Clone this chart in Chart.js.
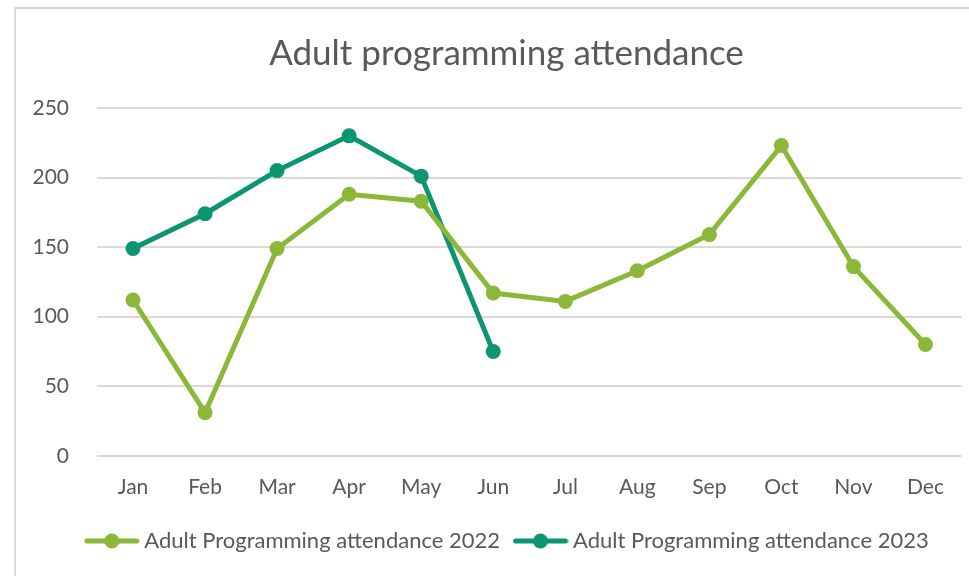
<!DOCTYPE html>
<html>
<head>
<meta charset="utf-8">
<script src="https://cdn.jsdelivr.net/npm/chart.js@4.4.0/dist/chart.umd.min.js"></script>
<style>
  body { margin: 0; background: #fff; }
  #frame { position: absolute; left: 14px; top: 7px; width: 1000px; height: 600px; border-left: 2px solid #d9d9d9; border-top: 2px solid #d9d9d9; }
  #wrap { position: absolute; left: 0; top: 0; width: 969px; height: 576px; }
</style>
</head>
<body>
<div id="frame"></div>
<div id="wrap"><canvas id="myChart"></canvas></div>
<script>
// data
var months = ['Jan', 'Feb', 'Mar', 'Apr', 'May', 'Jun', 'Jul', 'Aug', 'Sep', 'Oct', 'Nov', 'Dec'];
var attendance2022 = [112, 31, 149, 188, 183, 117, 111, 133, 159, 223, 136, 80];
var attendance2023 = [149, 174, 205, 230, 201, 75];
var seriesNames = ['Adult Programming attendance 2022', 'Adult Programming attendance 2023'];
var colors = ['#8cb83a', '#0c9572'];

// kleine icoontjes voor de legenda (lijn met bolletje)
function legendIcon(color) {
    var c = document.createElement('canvas');
    c.width = 56; c.height = 16;
    var g = c.getContext('2d');
    g.strokeStyle = color;
    g.lineWidth = 5;
    g.lineCap = 'round';
    g.beginPath(); g.moveTo(3, 8); g.lineTo(53, 8); g.stroke();
    g.fillStyle = color;
    g.beginPath(); g.arc(28, 8, 7.5, 0, Math.PI * 2); g.fill();
    return c;
}
var icons = [legendIcon(colors[0]), legendIcon(colors[1])];

var font = "Lato, 'Open Sans', sans-serif";
var textColor = '#595959';

// titel en legenda iets naar rechts schuiven, zoals in het origineel
var shiftBoxes = {
    id: 'shiftBoxes',
    afterLayout: function(chart) {
        if (chart.legend) {
            chart.legend.left += 25;
            chart.legend.right += 25;
        }
        if (chart.titleBlock) {
            chart.titleBlock.left += 22;
            chart.titleBlock.right += 22;
        }
    }
};

var ctx1 = document.getElementById('myChart');
var myChart = new Chart(ctx1, {
    type: 'line',
    data: {
        labels: months,
        datasets: [{
            label: seriesNames[0],
            data: attendance2022,
            borderColor: colors[0],
            backgroundColor: colors[0],
            borderWidth: 5,
            pointRadius: 7.5,
            pointHoverRadius: 7.5,
            pointBorderWidth: 0,
            tension: 0
        }, {
            label: seriesNames[1],
            data: attendance2023,
            borderColor: colors[1],
            backgroundColor: colors[1],
            borderWidth: 5,
            pointRadius: 7.5,
            pointHoverRadius: 7.5,
            pointBorderWidth: 0,
            tension: 0
        }]
    },
    plugins: [shiftBoxes],
    options: {
        responsive: true,
        maintainAspectRatio: false,
        animation: false,
        layout: { padding: { left: 0, right: 0, top: 0, bottom: 14 } },
        plugins: {
            title: {
                display: true,
                text: 'Adult programming attendance',
                color: textColor,
                font: { family: font, size: 35, weight: 'normal' },
                padding: { top: 33, bottom: 33 }
            },
            legend: {
                position: 'bottom',
                labels: {
                    color: textColor,
                    font: { family: font, size: 22 },
                    usePointStyle: true,
                    pointStyleWidth: 43,
                    padding: 19,
                    generateLabels: function(chart) {
                        return chart.data.datasets.map(function(ds, i) {
                            return {
                                text: ds.label,
                                fillStyle: ds.borderColor,
                                strokeStyle: ds.borderColor,
                                fontColor: textColor,
                                pointStyle: icons[i],
                                hidden: false,
                                datasetIndex: i
                            };
                        });
                    }
                }
            },
            tooltip: { enabled: false }
        },
        scales: {
            x: {
                offset: true,
                grid: { display: false },
                border: { display: false },
                ticks: { color: textColor, font: { family: font, size: 21 }, padding: 11 }
            },
            y: {
                min: 0,
                max: 250,
                ticks: { stepSize: 50, color: textColor, font: { family: font, size: 21 }, padding: 28 },
                grid: { color: '#d9d9d9', lineWidth: 2, drawTicks: false },
                border: { display: false },
                afterFit: function(scale) { scale.width = 97; }
            }
        }
    }
});
</script>
</body>
</html>
